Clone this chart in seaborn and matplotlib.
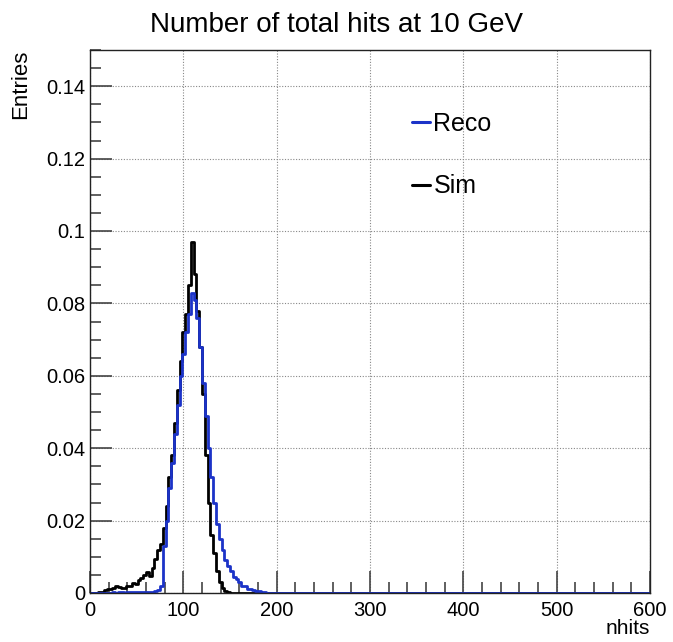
import numpy as np
import pandas as pd
import matplotlib
matplotlib.use("Agg")
import matplotlib.pyplot as plt
import seaborn as sns
from matplotlib.ticker import MultipleLocator
from matplotlib.lines import Line2D

# Histogram: 200 bins of width 3 from 0 to 600 (values listed for the first bins, rest empty)
bin_width = 3
x_min, x_max = 0, 600
sim_values = [
    0, 0, 0, 0.0002, 0.0003, 0.0008, 0.001, 0.0012, 0.0015, 0.0018,
    0.0016, 0.0015, 0.0013, 0.0018, 0.002, 0.0028, 0.0025, 0.0035, 0.0042, 0.005,
    0.0058, 0.0048, 0.007, 0.0095, 0.012, 0.0135, 0.018, 0.024, 0.032, 0.038,
    0.047, 0.056, 0.064, 0.072, 0.077, 0.085, 0.097, 0.088, 0.078, 0.068,
    0.055, 0.038, 0.025, 0.016, 0.011, 0.006, 0.003, 0.0015, 0.0005, 0.0002,
]
reco_values = [
    0, 0, 0, 0, 0, 0, 0.0001, 0.0001, 0.0002, 0.0001,
    0.0002, 0.0002, 0.0001, 0.0002, 0.0002, 0.0003, 0.0002, 0.0002, 0.0003, 0.0003,
    0.0002, 0.0003, 0.0004, 0.0005, 0.0008, 0.002, 0.013, 0.02, 0.029, 0.036,
    0.044, 0.052, 0.060, 0.066, 0.072, 0.077, 0.083, 0.081, 0.076, 0.068,
    0.058, 0.049, 0.040, 0.032, 0.025, 0.019, 0.015, 0.012, 0.009, 0.0075,
    0.006, 0.0045, 0.0038, 0.003, 0.002, 0.0018, 0.0012, 0.001, 0.0008, 0.0005,
    0.0005, 0.0003, 0.0002, 0.0001, 0.0001, 0.0001, 0.0001, 0.0001, 0.0001, 0.0001,
]
series_names = ["Reco", "Sim"]
draw_order = ["Sim", "Reco"]
series_colors = {"Reco": "#1c33c8", "Sim": "#000000"}
title = "Number of total hits at 10 GeV"

edges = np.arange(x_min, x_max + bin_width, bin_width)
centers = edges[:-1] + bin_width / 2
n_bins = len(centers)

def full(vals):
    arr = np.zeros(n_bins)
    arr[:len(vals)] = vals
    return arr

df = pd.concat([
    pd.DataFrame({"nhits": centers, "w": full(reco_values), "series": "Reco"}),
    pd.DataFrame({"nhits": centers, "w": full(sim_values), "series": "Sim"}),
], ignore_index=True)

sns.set_style("white")
plt.rcParams["font.family"] = ["Liberation Sans", "DejaVu Sans"]
plt.rcParams["text.color"] = "black"
plt.rcParams["axes.labelcolor"] = "black"
plt.rcParams["xtick.color"] = "black"
plt.rcParams["ytick.color"] = "black"

fig = plt.figure(figsize=(6.73, 6.42), dpi=100)
ax = fig.add_axes([90/673, 1 - 593/642, 560/673, 543/642])

for name in draw_order:
    sub = df[df["series"] == name].reset_index(drop=True)
    sns.histplot(data=sub, x="nhits", weights="w", binwidth=bin_width,
                 binrange=(x_min, x_max), element="step",
                 fill=False, color=series_colors[name], linewidth=2.0, ax=ax)

ax.set_xlim(x_min, x_max)
ax.set_ylim(0, 0.15)
ax.xaxis.set_major_locator(MultipleLocator(100))
ax.xaxis.set_minor_locator(MultipleLocator(20))
ax.set_yticks([0, 0.02, 0.04, 0.06, 0.08, 0.1, 0.12, 0.14])
ax.set_yticklabels(["0", "0.02", "0.04", "0.06", "0.08", "0.1", "0.12", "0.14"])
ax.yaxis.set_minor_locator(MultipleLocator(0.005))
ax.tick_params(axis="both", which="both", bottom=True, left=True, top=False, right=False)
ax.tick_params(axis="both", which="major", direction="in", length=16, width=1.2,
               labelsize=14.5, color="#444444", labelcolor="black")
ax.tick_params(axis="both", which="minor", direction="in", length=8, width=1.2,
               color="#444444")
ax.tick_params(axis="x", pad=6)
ax.grid(True, which="major", linestyle=(0, (1, 1.5)), color="#888888", linewidth=0.8)
ax.set_axisbelow(True)
for s in ax.spines.values():
    s.set_color("#222222")
    s.set_linewidth(1)

ax.set_xlabel("nhits", loc="right", fontsize=15, labelpad=-1)
ax.set_ylabel("Entries", loc="top", fontsize=16, labelpad=11)
fig.suptitle(title, fontsize=20, y=0.982)

handles = [Line2D([], [], color=series_colors[n], linewidth=2.2) for n in series_names]
ax.legend(handles, series_names, loc="upper left", bbox_to_anchor=(0.535, 0.928),
          frameon=False, fontsize=18, handlelength=0.7, handletextpad=0.15,
          labelspacing=1.55)

fig.savefig("out.png", dpi=100)
